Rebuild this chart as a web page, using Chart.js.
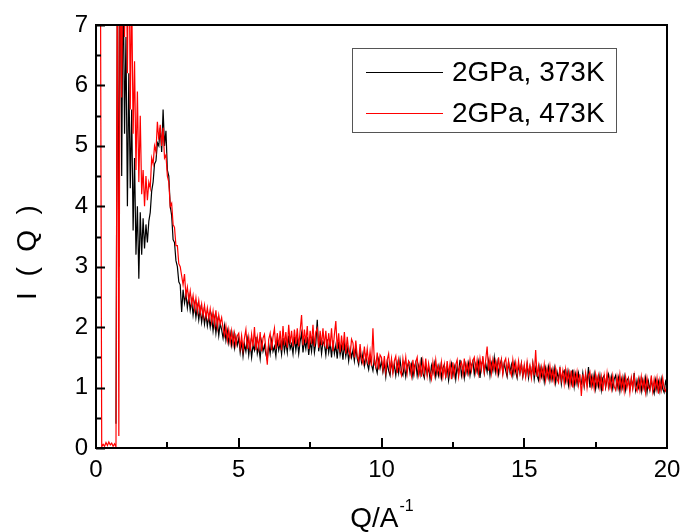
<!DOCTYPE html>
<html>
<head>
<meta charset="utf-8">
<script src="https://cdn.jsdelivr.net/npm/chart.js@4.4.0/dist/chart.umd.min.js"></script>
<style>
  html, body { margin: 0; background: #fff; }
</style>
</head>
<body>
<canvas id="chart" width="683" height="532"></canvas>
<script>
/* I(Q) at 2 GPa, two temperatures. Q step 0.05 from 0 to 20. */
const Q_START = 0;
const Q_STEP = 0.05;
const X_TICKS = [0, 5, 10, 15, 20];
const Y_TICKS = [0, 1, 2, 3, 4, 5, 6, 7];
const SERIES_NAMES = ["2GPa, 373K", "2GPa, 473K"];

// 2GPa, 373K (black)
const I_373K = [
  null,null,null,null,null,null,null,null,null,null,null,null,null,null,0.4,8,3.0,9,4.5,8,
  5.2,6.8,4.0,6.2,4.3,5.6,3.6,4.8,3.2,4.0,2.8,3.9,3.2,3.8,3.3,3.7,3.4,3.75,3.9,4.25,
  4.4,4.7,4.75,5.05,5.0,5.3,4.9,5.6,5.0,5.25,4.6,4.5,4.0,3.85,3.45,3.4,3.1,3.0,2.75,2.7,
  2.25,2.62,2.4,2.55,2.32,2.5,2.28,2.44,2.2,2.38,2.16,2.34,2.12,2.3,2.08,2.26,2.05,2.22,2.02,2.18,
  2.0,2.18,1.94,2.14,1.9,2.1,1.86,2.06,1.96,1.82,2.02,1.78,1.94,1.74,1.9,1.7,1.88,1.66,1.84,1.7,
  1.82,1.58,1.76,1.52,1.72,1.6,1.8,1.54,1.74,1.5,1.7,1.62,1.84,1.56,1.68,1.48,1.76,1.6,1.7,1.55,
  1.46,1.72,1.56,1.78,1.6,1.68,1.52,1.8,1.62,1.74,1.55,1.82,1.6,1.76,1.58,1.86,1.64,1.72,1.56,1.84,
  1.62,1.8,1.56,1.76,1.9,1.58,1.78,1.64,1.84,1.54,1.76,1.6,1.86,1.58,1.74,2.12,1.6,1.8,1.56,1.76,
  1.72,1.54,1.8,1.58,1.74,1.5,1.78,1.56,1.7,1.48,1.76,1.54,1.68,1.46,1.72,1.52,1.66,1.44,1.64,1.5,
  1.62,1.44,1.66,1.48,1.38,1.6,1.42,1.56,1.36,1.52,1.4,1.3,1.5,1.38,1.28,1.48,1.34,1.24,1.46,1.32,
  1.44,1.26,1.4,1.18,1.42,1.28,1.2,1.44,1.26,1.38,1.2,1.4,1.24,1.46,1.26,1.2,1.38,1.18,1.34,1.42,
  1.24,1.38,1.18,1.34,1.42,1.2,1.36,1.22,1.5,1.24,1.16,1.38,1.22,1.34,1.14,1.36,1.24,1.4,1.18,1.34,
  1.2,1.36,1.16,1.32,1.38,1.18,1.34,1.12,1.3,1.4,1.2,1.34,1.14,1.36,1.22,1.46,1.2,1.34,1.16,1.38,
  1.24,1.4,1.2,1.36,1.44,1.22,1.38,1.26,1.42,1.16,1.38,1.46,1.24,1.4,1.26,1.44,1.2,1.4,1.28,1.5,
  1.26,1.42,1.22,1.38,1.46,1.24,1.4,1.28,1.18,1.42,1.26,1.38,1.2,1.4,1.26,1.16,1.38,1.24,1.4,1.18,
  1.34,1.2,1.38,1.16,1.34,1.2,1.4,1.14,1.32,1.2,1.12,1.34,1.18,1.3,1.1,1.32,1.18,1.34,1.12,1.28,
  1.14,1.32,1.08,1.26,1.14,1.3,1.06,1.24,1.28,1.1,1.26,1.04,1.24,1.08,1.3,1.02,1.22,1.06,1.24,1.1,
  1.06,1.24,1.02,1.2,1.06,1.34,1.0,1.18,1.04,1.22,0.98,1.16,1.02,1.2,0.96,1.16,1.2,1.0,1.14,1.22,
  1.02,1.18,0.98,1.14,1.2,1.0,1.16,0.94,1.14,1.0,1.18,0.96,1.12,1.16,0.98,1.14,1.0,1.24,0.96,1.12,
  1.0,1.14,0.94,1.12,0.98,1.16,0.92,1.1,0.96,1.14,0.98,0.9,1.12,0.96,1.1,0.94,1.14,0.98,0.92,1.1,
  1.02
];

// 2GPa, 473K (red)
const I_473K = [
  null,null,null,9,0.02,0.06,0.03,0.09,0.04,0.1,0.05,0.08,0.03,0.07,0.02,9,0.2,9,5.8,9,
  6.8,9,6.2,9,5.6,7.6,5.2,6.4,4.6,5.9,4.4,5.5,4.2,4.6,4.0,4.5,4.1,4.4,4.3,4.8,
  4.7,5.0,4.9,5.4,5.1,5.35,5.0,5.3,4.8,4.85,4.5,4.4,4.0,4.05,3.7,3.65,3.35,3.35,3.05,3.0,
  2.85,2.7,2.88,2.52,2.66,2.44,2.6,2.38,2.52,2.3,2.48,2.26,2.44,2.22,2.38,2.18,2.36,2.16,2.32,2.14,
  2.3,2.08,2.26,2.04,2.28,2.0,2.2,2.06,2.16,1.98,1.86,2.02,1.78,1.96,1.74,1.94,1.72,1.9,1.7,1.86,
  1.9,1.66,1.86,1.62,1.82,1.96,1.64,1.84,1.6,1.88,1.68,2.0,1.62,1.84,1.66,1.92,1.6,1.82,1.88,1.64,
  1.38,1.8,1.9,1.62,1.84,1.98,1.64,1.9,1.68,1.94,1.62,2.02,1.7,1.92,1.66,2.04,1.72,1.94,1.68,1.96,
  1.72,1.98,1.68,1.94,2.2,1.7,1.96,1.74,2.02,1.64,1.94,1.72,2.04,1.68,1.92,1.98,1.66,1.94,1.7,1.98,
  1.68,1.94,1.64,1.9,1.68,1.98,1.6,1.88,2.1,1.64,1.9,1.58,1.86,1.62,1.92,1.56,1.84,1.6,1.52,1.8,
  1.74,1.5,1.78,1.52,1.44,1.72,1.48,1.4,1.68,1.44,1.64,1.38,1.6,1.36,1.98,1.42,1.34,1.58,1.3,1.54,
  1.5,1.3,1.52,1.26,1.46,1.56,1.28,1.48,1.24,1.44,1.52,1.24,1.46,1.28,1.2,1.48,1.3,1.5,1.24,1.44,
  1.4,1.2,1.46,1.24,1.42,1.5,1.22,1.4,1.18,1.44,1.24,1.48,1.2,1.4,1.24,1.14,1.42,1.22,1.46,1.24,
  1.36,1.2,1.42,1.18,1.38,1.16,1.44,1.22,1.4,1.14,1.42,1.2,1.38,1.46,1.18,1.36,1.42,1.22,1.48,1.24,
  1.4,1.24,1.46,1.28,1.44,1.5,1.26,1.46,1.24,1.48,1.3,1.52,1.26,1.46,1.68,1.28,1.48,1.24,1.46,1.3,
  1.44,1.24,1.5,1.28,1.46,1.22,1.42,1.48,1.24,1.44,1.28,1.2,1.46,1.26,1.42,1.22,1.44,1.24,1.4,1.2,
  1.38,1.18,1.42,1.22,1.36,1.16,1.4,1.2,1.62,1.18,1.36,1.14,1.34,1.18,1.38,1.12,1.32,1.16,1.36,1.14,
  1.3,1.1,1.32,1.14,1.08,1.34,1.12,1.28,1.06,1.3,1.1,1.26,1.04,1.28,1.0,1.24,1.08,1.26,1.04,1.22,
  0.86,1.22,1.04,1.24,1.0,1.2,1.26,1.02,1.18,0.98,1.22,1.04,1.2,1.0,1.18,0.94,1.2,1.02,1.24,1.0,
  1.16,0.98,1.2,1.02,0.96,1.18,1.0,1.22,0.98,1.16,0.94,1.18,1.0,1.14,0.92,1.16,0.98,1.2,1.0,0.94,
  1.14,0.96,1.18,0.98,1.14,0.92,1.16,1.0,0.96,1.2,0.94,1.14,0.98,1.16,0.9,1.12,0.96,1.16,0.98,0.94,
  1.06
];

const COLORS = ["#000000", "#ff0000"];
const FONT = "'Liberation Sans', Arial, sans-serif";

const toPoints = (arr) => arr.map((v, i) => ({ x: +(Q_START + i * Q_STEP).toFixed(2), y: v }));

// box frame + inward ticks, axis titles, boxed legend
const decor = {
  id: "decor",
  afterDatasetsDraw(chart) {
    const { ctx, chartArea: a, scales: { x, y } } = chart;
    ctx.save();
    ctx.strokeStyle = "#000";
    ctx.lineWidth = 2;
    ctx.beginPath();
    for (let v = 0; v <= 7; v += 0.5) {
      const p = Math.round(y.getPixelForValue(v)) + 0.5;
      ctx.moveTo(a.left, p); ctx.lineTo(a.left + (v % 1 ? 5 : 9), p);
    }
    for (let v = 0; v <= 20; v += 2.5) {
      const p = Math.round(x.getPixelForValue(v));
      ctx.moveTo(p, a.bottom); ctx.lineTo(p, a.bottom - (v % 5 ? 6 : 10));
    }
    ctx.stroke();
    ctx.strokeRect(a.left, a.top, a.right - a.left, a.bottom - a.top);

    ctx.fillStyle = "#000";

    // y axis title
    ctx.save();
    ctx.translate(28, (a.top + a.bottom) / 2 + 16);
    ctx.rotate(-Math.PI / 2);
    ctx.font = "28px " + FONT;
    ctx.textAlign = "center";
    ctx.textBaseline = "middle";
    ctx.fillText("I  (  Q  )", 0, 0);
    ctx.restore();

    // x axis title  Q/A^-1
    ctx.textBaseline = "alphabetic";
    ctx.font = "28px " + FONT;
    const main = "Q/A", sup = "-1";
    const wMain = ctx.measureText(main).width;
    ctx.font = "16px " + FONT;
    const wSup = ctx.measureText(sup).width;
    const cx = (a.left + a.right) / 2;
    const base = a.bottom + 79;
    const x0 = cx - (wMain + wSup) / 2;
    ctx.font = "28px " + FONT;
    ctx.fillText(main, x0, base);
    ctx.font = "16px " + FONT;
    ctx.fillText(sup, x0 + wMain + 1, base - 16);

    // legend
    const L = a.left + 256, T = a.top + 23, W = 264, H = 84;
    ctx.lineWidth = 1;
    ctx.strokeStyle = "#555";
    ctx.strokeRect(L + 0.5, T + 0.5, W, H);
    ctx.font = "28px " + FONT;
    ctx.textBaseline = "middle";
    SERIES_NAMES.forEach((name, i) => {
      const ly = T + 24 + i * 41;
      ctx.strokeStyle = COLORS[i];
      ctx.beginPath();
      ctx.moveTo(L + 14, ly + 0.5); ctx.lineTo(L + 91, ly + 0.5);
      ctx.stroke();
      ctx.fillText(name, L + 100, ly + 1);
    });
    ctx.restore();
  }
};

new Chart(document.getElementById("chart"), {
  type: "line",
  data: {
    datasets: [
      { label: SERIES_NAMES[0], data: toPoints(I_373K), borderColor: COLORS[0], borderWidth: 1.2, order: 1 },
      { label: SERIES_NAMES[1], data: toPoints(I_473K), borderColor: COLORS[1], borderWidth: 1.2, order: 0 }
    ]
  },
  options: {
    responsive: false,
    animation: false,
    devicePixelRatio: 1,
    elements: { point: { radius: 0 }, line: { tension: 0 } },
    layout: { padding: { top: 25, right: 16, left: 0, bottom: 0 } },
    plugins: { legend: { display: false }, tooltip: { enabled: false } },
    scales: {
      x: {
        type: "linear", min: 0, max: 20,
        afterBuildTicks: (s) => { s.ticks = X_TICKS.map(v => ({ value: v })); },
        ticks: { color: "#000", font: { family: FONT, size: 24 }, padding: 8, maxRotation: 0 },
        grid: { display: false, drawTicks: false },
        border: { display: false },
        afterFit: (s) => { s.height = 84; s.paddingLeft = 0; s.paddingRight = 0; }
      },
      y: {
        type: "linear", min: 0, max: 7,
        afterBuildTicks: (s) => { s.ticks = Y_TICKS.map(v => ({ value: v })); },
        ticks: { color: "#000", font: { family: FONT, size: 24 }, padding: 8 },
        grid: { display: false, drawTicks: false },
        border: { display: false },
        afterFit: (s) => { s.width = 96; s.paddingTop = 0; s.paddingBottom = 0; }
      }
    }
  },
  plugins: [decor]
});
</script>
</body>
</html>
